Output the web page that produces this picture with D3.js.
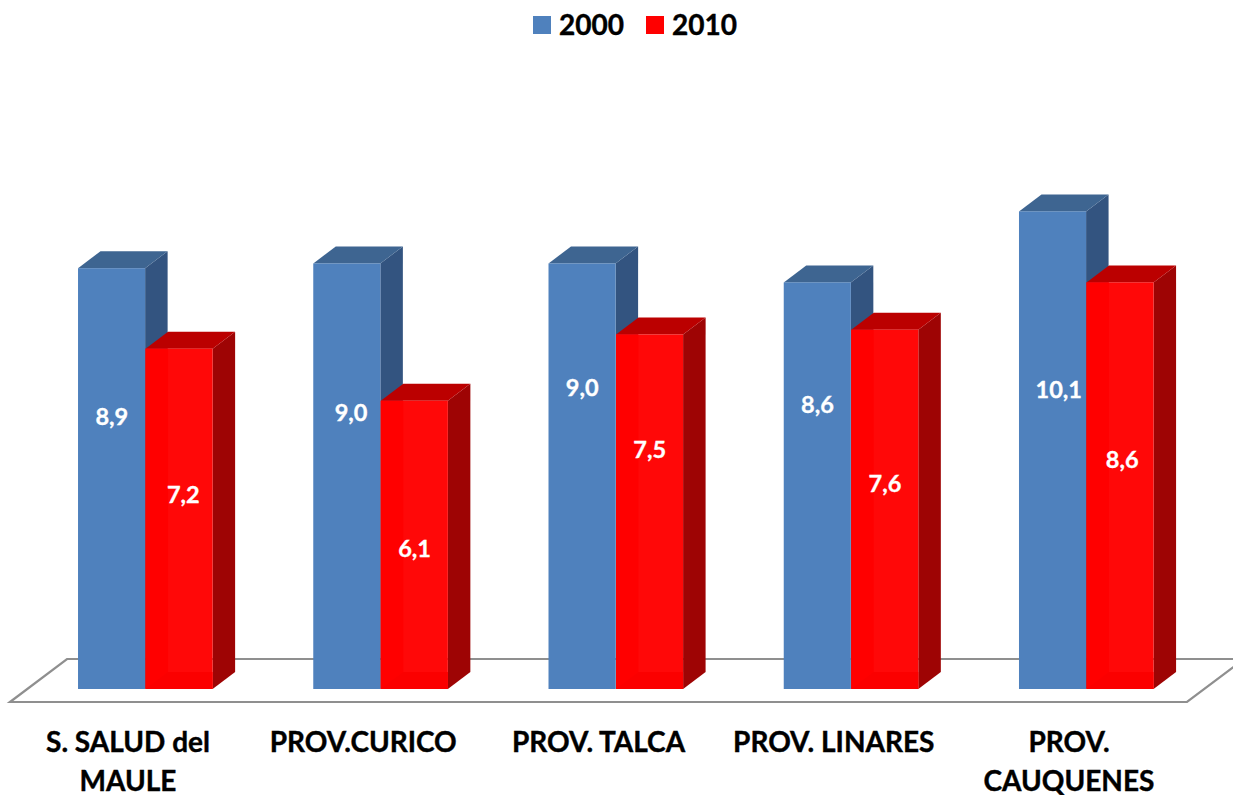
<!DOCTYPE html>
<html><head><meta charset="utf-8">
<script src="https://cdn.jsdelivr.net/npm/d3@7"></script>
<style>html,body{margin:0;padding:0;background:#fff;overflow:hidden}svg{display:block}text{font-family:Lato,"Open Sans",sans-serif;font-weight:700}</style>
</head><body>
<script>
const categories = ["S. SALUD del|MAULE","PROV.CURICO","PROV. TALCA","PROV. LINARES","PROV.|CAUQUENES"];
const seriesNames = ["2000","2010"];
const values2000 = [8.9,9.0,9.0,8.6,10.1];
const values2010 = [7.2,6.1,7.5,7.6,8.6];
const valueLabels2000 = ["8,9","9,0","9,0","8,6","10,1"];
const valueLabels2010 = ["7,2","6,1","7,5","7,6","8,6"];

const W=1233,H=795,base=689,dx=22.5,dy=17;
const svg=d3.select("body").append("svg").attr("width",W).attr("height",H);
const x0=d3.scaleBand().domain(categories).range([27.9,1204.1]).paddingInner(100.25/235.25).paddingOuter(50.125/235.25);
const x1=d3.scaleBand().domain(seriesNames).range([0,x0.bandwidth()]);
const y=d3.scaleLinear().domain([0,10.1]).range([base,211]);
const pal={"2000":{front:"#4f81bd",side:"#335480",top:"#3e6591"},"2010":{front:"#ff0808",side:"#9e0404",top:"#bb0000"}};
const line=d3.line();

// floor
const fl=[[10,702],[67,659],[1244,659],[1187,702]];
svg.append("path").attr("d",line(fl)+"Z").attr("fill","#fff").attr("stroke","#8f8f8f").attr("stroke-width",2.2);

// hand-placed label positions of the original, relative to the bar
const riseA=[272,276,301,284,299], riseB=[194,140,239,205,229];
const shiftA=[0,4,0,0,6], shiftB=[4,0,0,0,2];

const rows=categories.map((c,i)=>[
  {c,s:"2000",v:values2000[i],t:valueLabels2000[i],rise:riseA[i],shift:shiftA[i]},
  {c,s:"2010",v:values2010[i],t:valueLabels2010[i],rise:riseB[i],shift:shiftB[i]}]).flat();

const bars=svg.selectAll("g.bar").data(rows).join("g").attr("class","bar");
bars.each(function(d){
  const g=d3.select(this),L=x0(d.c)+x1(d.s),R=L+x1.bandwidth()-0.4,T=y(d.v)+0.4,p=pal[d.s];
  g.append("path").attr("d",line([[R,T],[R+dx,T-dy],[R+dx,base-dy],[R,base]])+"Z").attr("fill",p.side);
  g.append("path").attr("d",line([[L,T],[L+dx,T-dy],[R+dx,T-dy],[R,T]])+"Z").attr("fill",p.top);
  g.append("rect").attr("x",L).attr("y",T).attr("width",R-L).attr("height",base-T).attr("fill",p.front);
  if(d.s==="2010"){
    // faint see-through back faces
    g.append("rect").attr("x",L).attr("y",T).attr("width",dx).attr("height",base-T).attr("fill","#ff0000");
    g.append("path").attr("d",line([[L,base],[L+dx,base-dy],[R,base-dy],[R,base]])+"Z").attr("fill","#fb0000");
  }
});
svg.selectAll("text.val").data(rows).join("text").attr("class","val")
  .attr("x",d=>x0(d.c)+x1(d.s)+x1.bandwidth()/2+d.shift)
  .attr("y",d=>base-d.rise).attr("dy","0.35em").attr("text-anchor","middle")
  .attr("fill","#fff").attr("stroke","#fff").attr("stroke-width",0.35).attr("font-size",23.5).text(d=>d.t);

// category labels
svg.selectAll("text.cat").data(categories).join("text").attr("class","cat")
  .attr("text-anchor","middle").attr("fill","#000").attr("stroke","#000").attr("stroke-width",0.4).attr("font-size",28)
  .each(function(c){
    const cx=x0(c)+x0.bandwidth()/2-17.5;
    d3.select(this).selectAll("tspan").data(c.split("|")).join("tspan")
      .attr("x",cx).attr("y",(d,i)=>752+i*38.5).text(d=>d);
  });

// legend
const lx=d3.scaleOrdinal().domain(seriesNames).range([533,646]);
const lg=svg.selectAll("g.leg").data(seriesNames).join("g").attr("class","leg").attr("transform",d=>`translate(${lx(d)},16)`);
lg.append("rect").attr("width",18).attr("height",18).attr("fill",d=>d==="2000"?pal[d].front:"#ff0000");
lg.append("text").attr("x",26).attr("y",19).attr("font-size",28).attr("fill","#000").attr("stroke","#000").attr("stroke-width",0.4).text(d=>d);
</script>
</body></html>
